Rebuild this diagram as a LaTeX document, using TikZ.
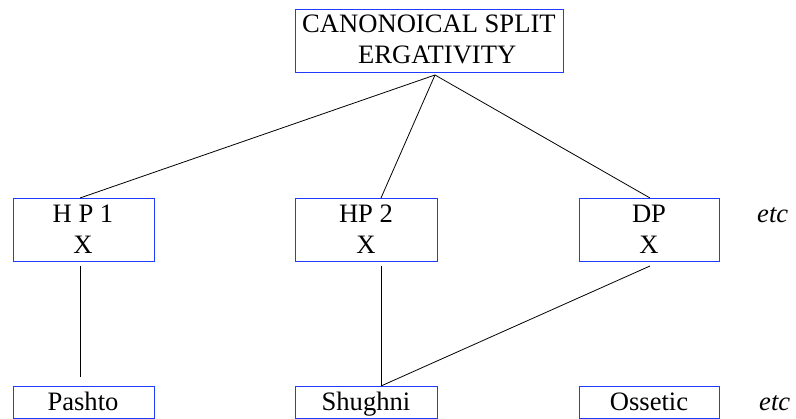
\documentclass[tikz,border=0pt]{standalone}
\usepackage{fontspec}
\setmainfont{Liberation Serif}
\definecolor{boxblue}{RGB}{30,60,250}
\tikzset{
  boxn/.style={draw=boxblue, line width=0.9pt, inner sep=0pt, anchor=north west},
  txt/.style={anchor=base, inner sep=0pt, font=\fontsize{26.6}{31}\selectfont},
  txtw/.style={txt, anchor=base west},
  etcl/.style={txt, anchor=base west, font=\fontsize{26.6}{31}\selectfont\itshape},
  conn/.style={draw=black, line width=0.8pt},
}
\begin{document}
\begin{tikzpicture}[x=1pt,y=-1pt]
\useasboundingbox (0,0) rectangle (796,419);
% top box
\node[boxn, minimum width=268pt, minimum height=63pt] (top) at (295,9) {};
\node[txtw] (topa) at (302,33) {CANONOICAL SPLIT};
\node[txtw] (topb) at (358,64) {ERGATIVITY};
% middle boxes
\node[boxn, minimum width=141pt, minimum height=63pt] (hp1) at (13,198) {};
\node[boxn, minimum width=142pt, minimum height=63pt] (hp2) at (295,198) {};
\node[boxn, minimum width=140pt, minimum height=63pt] (dp) at (579,198) {};
\node[txt] (hp1a) at (83,223) {H P 1};
\node[txt] (hp1b) at (83,254) {X};
\node[txt] (hp2a) at (366,223) {HP 2};
\node[txt] (hp2b) at (366,254) {X};
\node[txt] (dpa) at (649,223) {DP};
\node[txt] (dpb) at (649,254) {X};
\node[etcl] (etc1) at (757,223) {etc};
% bottom boxes
\node[boxn, minimum width=141pt, minimum height=32pt] (pashto) at (13,386) {};
\node[boxn, minimum width=142pt, minimum height=32pt] (shughni) at (295,386) {};
\node[boxn, minimum width=140pt, minimum height=32pt] (ossetic) at (579,386) {};
\node[txt] (pashtot) at (83,411) {Pashto};
\node[txt] (shughnit) at (366,411) {Shughni};
\node[txt] (ossetict) at (649,411) {Ossetic};
\node[etcl] (etc2) at (759,411) {etc};
% connector end points
\coordinate (apex) at (435,75);
\coordinate (hp1in) at (80,198);
\coordinate (hp2in) at (381,198);
\coordinate (dpin) at (650,198);
\coordinate (hp1out) at (80,266);
\coordinate (hp2out) at (381,266);
\coordinate (dpout) at (650,266);
\coordinate (pashtoin) at (80,377);
\coordinate (shughniin) at (381,386);
% connectors
\draw[conn] (apex) -- (hp1in);
\draw[conn] (apex) -- (hp2in);
\draw[conn] (apex) -- (dpin);
\draw[conn] (hp1out) -- (pashtoin);
\draw[conn] (hp2out) -- (shughniin);
\draw[conn] (dpout) -- (shughniin);
\end{tikzpicture}
\end{document}
